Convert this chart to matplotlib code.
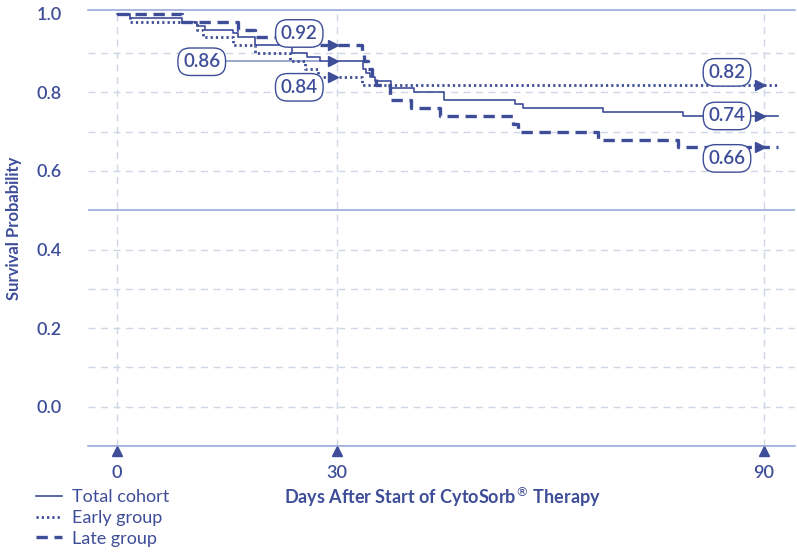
import numpy as np
import matplotlib.pyplot as plt
from matplotlib.lines import Line2D
from matplotlib.transforms import blended_transform_factory

plt.rcParams['font.family'] = ['Lato', 'DejaVu Sans']

# Kaplan-Meier steps (day the value starts, survival)
total_days = [0, 1.8, 8.9, 11.0, 12.0, 15.9, 16.5, 18.9, 23.9, 26.0, 27.7,
              33.7, 34.1, 34.7, 35.4, 37.6, 40.9, 45.0, 55.0, 56.2, 67.4, 78.6]
total_surv = [1.0, 0.99, 0.98, 0.97, 0.96, 0.95, 0.94, 0.92, 0.90, 0.89, 0.88,
              0.86, 0.85, 0.84, 0.83, 0.81, 0.80, 0.78, 0.77, 0.76, 0.75, 0.74]

early_days = [0, 1.8, 11.0, 11.8, 15.9, 18.9, 23.6, 25.7, 27.4, 33.55]
early_surv = [1.0, 0.98, 0.96, 0.94, 0.92, 0.90, 0.88, 0.86, 0.84, 0.82]

late_days = [0, 8.9, 16.5, 18.9, 23.6, 33.55, 33.8, 34.4, 35.0, 35.5, 37.5,
             40.4, 44.5, 54.8, 55.5, 66.7, 77.9]
late_surv = [1.0, 0.98, 0.96, 0.94, 0.92, 0.90, 0.88, 0.86, 0.84, 0.82, 0.78,
             0.76, 0.74, 0.72, 0.70, 0.68, 0.66]

followup_end = 91.9
x_ticks = [0, 30, 90]
y_ticks = [0.0, 0.2, 0.4, 0.6, 0.8, 1.0]
y_grid = [0.0, 0.1, 0.2, 0.3, 0.4, 0.6, 0.7, 0.8, 0.9]

labels = ['0.92', '0.86', '0.84', '0.82', '0.74', '0.66']
series_names = ['Total cohort', 'Early group', 'Late group']

DARK = '#3e4d98'
LIGHT = '#8fa2d8'
GRID = '#cfd6e6'

# the picture's day axis is not quite linear between 0-30 and 30-90
_d = [-100, 0, 30, 90, 200]
_p = [-733.3, 0, 220, 647.3, 1430.5]
fwd = lambda d: np.interp(d, _d, _p)
inv = lambda p: np.interp(p, _p, _d)

fig = plt.figure(figsize=(7.97, 5.52), dpi=100)
ax = fig.add_axes([88 / 797, 1 - 446 / 552, 707 / 797, 436.5 / 552])
ax.set_xscale('function', functions=(fwd, inv))
ax.set_xlim(-3.91, 94.35)
ax.set_ylim(-0.1, 1.011)

for g in y_grid:
    ax.axhline(g, color=GRID, lw=1, ls=(0, (5, 4)), zorder=0)
ax.axhline(0.5, color=LIGHT, lw=1.1, zorder=0)
for t in x_ticks:
    ax.axvline(t, color=GRID, lw=1, ls=(0, (5, 4)), zorder=0)

for s in ['left', 'right']:
    ax.spines[s].set_visible(False)
for s in ['top', 'bottom']:
    ax.spines[s].set_color(LIGHT)
    ax.spines[s].set_linewidth(1.1)

styles = [dict(lw=1.2, ls='-'),
          dict(lw=2.0, ls=(0, (0.8, 1.1))),
          dict(lw=2.4, ls=(0, (3.4, 2.0)))]
curves = [(total_days, total_surv), (early_days, early_surv), (late_days, late_surv)]

# connector for the 0.86 box
ax.plot([11.6, 27.7], [0.88, 0.88], color='#9ba6d0', lw=1.4, zorder=1)

for (days, surv), st in zip(curves, styles):
    ax.step(days + [followup_end], surv + [surv[-1]], where='post',
            color=DARK, zorder=3, **st)
    for t in x_ticks[1:]:
        v = surv[np.searchsorted(days, t, side='right') - 1]
        ax.plot(t - 0.55, v, marker='>', ms=6.5, color=DARK, zorder=4)

box = dict(boxstyle='round,pad=0.28,rounding_size=0.65', fc='white', ec=DARK, lw=1)
label_pos = [(24.9, 0.95), (11.6, 0.878), (24.9, 0.813),
             (84.8, 0.851), (84.8, 0.74), (84.8, 0.632)]
for txt, (lx, ly) in zip(labels, label_pos):
    ax.text(lx, ly, txt, ha='center', va='center', fontsize=13.5, color=DARK,
            fontweight='semibold', bbox=box, zorder=5)

ax.set_xticks(x_ticks)
ax.set_xticklabels([str(t) for t in x_ticks])
ax.set_yticks(y_ticks)
ax.set_yticklabels([f'{v:.1f}' for v in y_ticks])
ax.tick_params(length=0, labelsize=13, labelcolor=DARK)
ax.tick_params(axis='x', pad=14)
ax.tick_params(axis='y', pad=19)
for lab in ax.get_xticklabels() + ax.get_yticklabels():
    lab.set_fontweight('semibold')

tr = blended_transform_factory(ax.transData, ax.transAxes)
ax.plot(x_ticks, [-0.011] * len(x_ticks), '^', ms=6.5, color=DARK,
        transform=tr, clip_on=False)

fig.text(14 / 797, 1 - 228 / 552, 'Survival Probability', rotation=90,
         ha='center', va='center', fontsize=12, fontweight='bold', color=DARK)
fig.text(442 / 797, 1 - 497 / 552, r'Days After Start of CytoSorb$^{\circledR}$ Therapy',
         ha='center', va='center', fontsize=13, fontweight='bold', color=DARK)

handles = [Line2D([], [], color=DARK, **st) for st in styles]
fig.legend(handles, series_names, loc='upper left', bbox_to_anchor=(36 / 797, 1 - 489 / 552),
           frameon=False, fontsize=13, labelcolor=DARK, handlelength=1.45,
           handletextpad=0.55, labelspacing=0.27, borderpad=0, borderaxespad=0)

fig.savefig('out.png', dpi=100)
